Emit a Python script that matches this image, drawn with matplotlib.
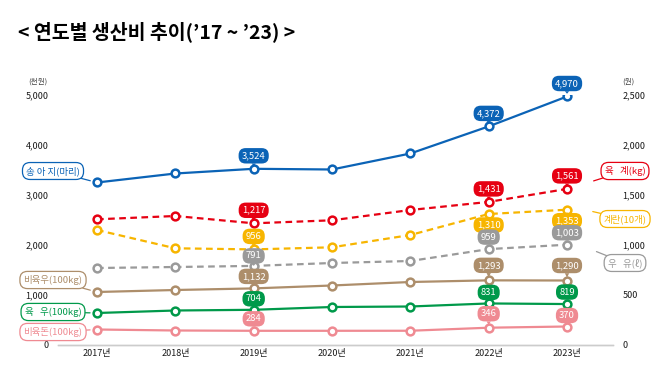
import matplotlib.pyplot as plt

plt.rcParams["font.family"] = ["Noto Sans CJK KR", "DejaVu Sans"]

# data
years = ["2017년", "2018년", "2019년", "2020년", "2021년", "2022년", "2023년"]
calf = [3250, 3430, 3524, 3510, 3830, 4372, 4970]            # 천원/마리 (left)
fattening_cattle = [1060, 1100, 1132, 1190, 1260, 1293, 1290]  # 천원/100kg (left)
beef_cattle = [640, 690, 704, 760, 770, 831, 819]             # 천원/100kg (left)
fattening_pig = [310, 290, 284, 284, 285, 346, 370]           # 천원/100kg (left)
broiler = [1257, 1290, 1217, 1247, 1350, 1431, 1561]          # 원/kg (right)
egg = [1150, 967, 956, 977, 1100, 1310, 1353]                 # 원/10개 (right)
milk = [770, 780, 791, 820, 840, 959, 1003]                   # 원/ℓ (right)
labelled_years = [2, 5, 6]

left_ticks = [0, 1000, 2000, 3000, 4000, 5000]
right_ticks = [0, 500, 1000, 1500, 2000, 2500]

BLUE = "#0b63b6"
RED = "#e60012"
YELLOW = "#f7b500"
GRAY = "#9a9a9a"
BROWN = "#ad8e6b"
GREEN = "#00994a"
PINK = "#ef8a92"

W, H = 669, 390
fig = plt.figure(figsize=(W / 100, H / 100), dpi=100)
ax = fig.add_axes([58 / W, 45 / H, 555 / W, 250 / H])
ax.set_xlim(-0.498, 6.587)
ax.set_ylim(0, 5000)
ax2 = ax.twinx()
ax2.set_ylim(0, 2500)

for a in (ax, ax2):
    for side in ("top", "left", "right"):
        a.spines[side].set_visible(False)
    a.spines["bottom"].set_color("#cccccc")
    a.spines["bottom"].set_linewidth(1.0)
    a.tick_params(length=0, labelsize=6.5, labelcolor="#1a1a1a")

xs = list(range(len(years)))
ax.set_xticks(xs, years)
ax.tick_params(axis="x", pad=3)
ax.set_yticks(left_ticks, [f"{v:,}" for v in left_ticks])
ax.tick_params(axis="y", pad=7)
ax2.set_yticks(right_ticks, [f"{v:,}" for v in right_ticks])
ax2.tick_params(axis="y", pad=7)
for lbl in ax.get_xticklabels() + ax.get_yticklabels() + ax2.get_yticklabels():
    lbl.set_fontweight("medium")

# (values, on right axis, colour, dashed, label offsets in px per labelled year)
series = [
    (calf, False, BLUE, False, [13, 13, 13]),
    (fattening_cattle, False, BROWN, False, [12, 15, 15]),
    (beef_cattle, False, GREEN, False, [11, 11, 12]),
    (fattening_pig, False, PINK, False, [12, 14, 11]),
    (broiler, True, RED, True, [13, 13, 13]),
    (egg, True, YELLOW, True, [13, -11, -11]),
    (milk, True, GRAY, True, [10, 12, 12]),
]

for values, right, color, dashed, offsets in series:
    target = ax2 if right else ax
    target.plot(xs, values, color=color, lw=1.6,
                linestyle=(0, (3, 2)) if dashed else "-",
                marker="o", markersize=5.6, markerfacecolor="white",
                markeredgecolor=color, markeredgewidth=1.8, zorder=3)

for values, right, color, dashed, offsets in series:
    trans = (ax2 if right else ax).transData
    for i, dy in zip(labelled_years, offsets):
        ax2.annotate(f"{values[i]:,}", xy=(xs[i], values[i]), xycoords=trans,
                     xytext=(0, dy), textcoords="offset pixels",
                     ha="center", va="center", fontsize=6.8, color="white",
                     fontweight="medium",
                     bbox=dict(boxstyle="round,pad=0.34,rounding_size=0.75",
                               fc=color, ec="none"),
                     arrowprops=dict(arrowstyle="wedge,tail_width=0.45",
                                     fc=color, ec="none", shrinkA=0, shrinkB=2),
                     zorder=6)


def callout(text, color, xy, xycoords, box_center):
    ax2.annotate(text, xy=xy, xycoords=xycoords,
                 xytext=(box_center[0], H - box_center[1]),
                 textcoords="figure pixels", ha="center", va="center",
                 fontsize=6.8, color=color, annotation_clip=False,
                 bbox=dict(boxstyle="round,pad=0.38,rounding_size=0.8",
                           fc="white", ec=color, lw=0.9),
                 arrowprops=dict(arrowstyle="-", color=color, lw=0.9,
                                 shrinkA=0, shrinkB=5),
                 zorder=7)


callout("송 아 지(마리)", BLUE, (0, calf[0]), ax.transData, (53, 171))
callout("비육우(100kg)", BROWN, (0, fattening_cattle[0]), ax.transData, (53, 280))
callout("육   우(100kg)", GREEN, (0, beef_cattle[0]), ax.transData, (53, 312))
callout("비육돈(100kg)", PINK, (0, fattening_pig[0]), ax.transData, (53, 332))
callout("육   계(kg)", RED, (587, H - 183), "figure pixels", (625, 171))
callout("계란(10개)", YELLOW, (586, H - 210), "figure pixels", (625, 219))
callout("우   유(ℓ)", GRAY, (590, H - 249), "figure pixels", (625, 263))

fig.text(18 / W, 1 - 32 / H, "< 연도별 생산비 추이(’17 ~ ’23) >",
         fontsize=14, fontweight="bold", va="center", ha="left")
fig.text(38 / W, 1 - 82 / H, "(천원)", fontsize=5.5, color="#444444",
         ha="center", va="center")
fig.text(628 / W, 1 - 82 / H, "(원)", fontsize=5.5, color="#444444",
         ha="center", va="center")

fig.savefig("out.png", dpi=100, facecolor="white")
